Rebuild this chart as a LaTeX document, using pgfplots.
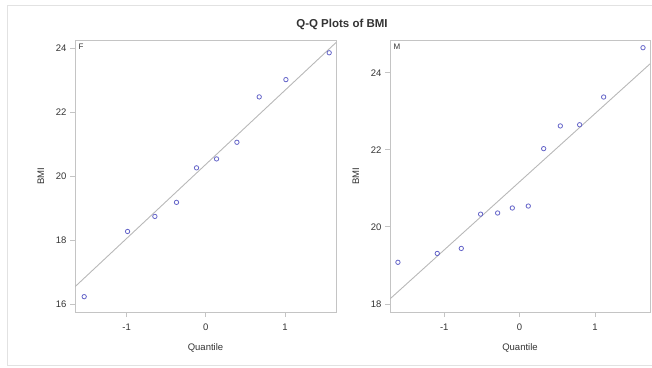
\documentclass[border=0pt]{standalone}
\usepackage{pgfplots}
\pgfplotsset{compat=1.18}
\usepackage{fontspec}
\setmainfont{Liberation Sans}
\definecolor{frame}{HTML}{C4C4C4}
\definecolor{outer}{HTML}{E2E2E2}
\definecolor{fitline}{HTML}{B8B8B8}
\definecolor{pts}{HTML}{6464C8}
\definecolor{txt}{HTML}{333333}
\pgfplotsset{
  qq/.style={
    scale only axis, width=261pt, height=272pt,
    axis line style={frame, line width=0.9pt},
    tick style={frame, line width=0.8pt},
    tick align=outside, major tick length=5pt,
    xtick pos=bottom, ytick pos=left,
    ticklabel style={font=\fontsize{9.5}{10}\selectfont, text=txt},
    xticklabel style={yshift=-3pt},
    label style={font=\fontsize{9.5}{10}\selectfont, text=txt},
    xlabel style={yshift=-6pt},
    ylabel style={yshift=5pt},
    /pgf/number format/assume math mode=true,
    xlabel={Quantile}, ylabel={BMI},
    xtick={-1,0,1},
    clip=true,
  },
  fit/.style={no marks, fitline, line width=0.9pt},
  obs/.style={only marks, mark=o, mark size=2.2pt, mark options={pts, line width=0.8pt}},
}
\begin{document}
\begin{tikzpicture}
\path[use as bounding box] (0pt,0pt) rectangle (652pt,367pt);
\draw[outer, line width=1pt] (652pt,2pt) -- (7pt,2pt) -- (7pt,361.5pt) -- (652pt,361.5pt);
\node[font=\bfseries\fontsize{11.5}{12}\selectfont, text=txt] at (342pt,343pt) {Q-Q Plots of BMI};

% Females
\begin{axis}[qq, at={(75pt,55pt)}, anchor=south west,
  xmin=-1.653, xmax=1.644, ymin=15.75, ymax=24.26,
  ytick={16,18,20,22,24}]
\addplot[fit] coordinates {(-1.653,16.54) (1.644,24.18)};
\addplot[obs] coordinates {
(-1.537,16.23) (-0.989,18.27) (-0.644,18.74) (-0.371,19.18) (-0.118,20.26)
(0.135,20.54) (0.392,21.06) (0.674,22.48) (1.011,23.02) (1.558,23.86)};
\node[anchor=north west, font=\fontsize{8}{9}\selectfont, text=txt] at (rel axis cs:0,1) {F};
\end{axis}

% Males
\begin{axis}[qq, at={(390pt,55pt)}, anchor=south west, width=260pt,
  xmin=-1.72, xmax=1.73, ymin=17.79, ymax=24.85,
  ytick={18,20,22,24}]
\addplot[fit] coordinates {(-1.72,18.13) (1.73,24.23)};
\addplot[obs] coordinates {
(-1.615,19.08) (-1.093,19.31) (-0.774,19.44) (-0.518,20.33) (-0.292,20.36)
(-0.097,20.49) (0.115,20.54) (0.319,22.03) (0.540,22.62) (0.796,22.65)
(1.115,23.37) (1.637,24.65)};
\node[anchor=north west, font=\fontsize{8}{9}\selectfont, text=txt] at (rel axis cs:0,1) {M};
\end{axis}
\end{tikzpicture}
\end{document}
